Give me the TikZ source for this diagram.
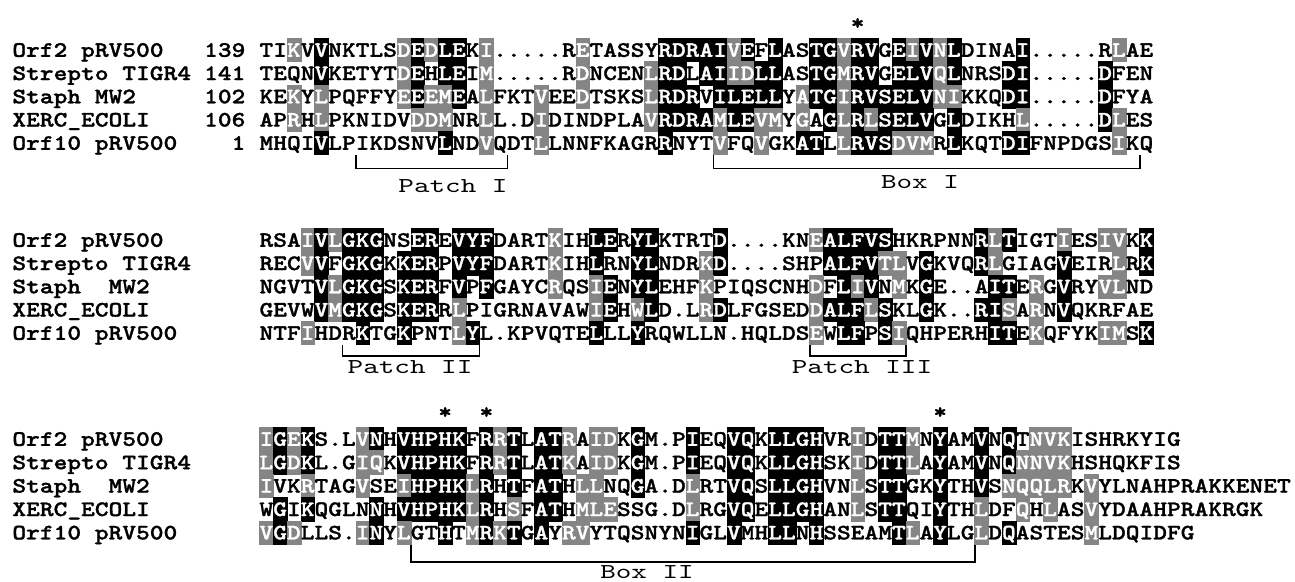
\documentclass[tikz,border=0pt]{standalone}
\usepackage{fontspec}
\usetikzlibrary{positioning}
\newfontfamily\seqfont{lmmonolt10-bold.otf}[FakeStretch=1.19, FakeBold=1.3]
\newfontfamily\lblfont{lmmono10-regular.otf}[FakeStretch=1.4]
\newcommand\seqsize{\fontsize{11pt}{13pt}\selectfont}
\newcommand\lblsize{\fontsize{10.6pt}{13pt}\selectfont}

\tikzset{
  res/.style={font=\seqfont\seqsize, inner sep=0pt, minimum width=6.875pt,
    minimum height=11.7pt, text height=6.8pt, text depth=0pt},
  res-/.style={res},
  resb/.style={res, fill=black, draw=black, line width=0.25pt, text=white},
  resg/.style={res, fill=black!48, draw=black!48, line width=0.25pt, text=white},
  namelbl/.style={font=\seqfont\seqsize, inner sep=0pt, text height=6.8pt,
    text depth=0pt, anchor=west},
  numlbl/.style={namelbl, anchor=east},
  starmark/.style={res},
  bracket/.style={line width=0.7pt},
  boxlbl/.style={font=\lblfont\lblsize, inner sep=0pt},
}

% one row of residues: y, row name, residues, shading (- plain, b black, g grey)
\ExplSyntaxOn
\str_new:N \l_aln_shade_str
\NewDocumentCommand \alnrow { m m m m }
  {
    \str_set:Nn \l_aln_shade_str {#4}
    \str_remove_all:Nn \l_aln_shade_str { | }
    \int_step_inline:nn { \str_count:n {#3} }
      {
        \use:e
          {
            \exp_not:N \node [ res \str_item:Nn \l_aln_shade_str {##1} ]
              (#2-##1) at ( { 12 + (17.5 + ##1) * 13.75 } , #1 )
              { \str_item:nn {#3} {##1} } ;
          }
      }
  }
\ExplSyntaxOff

\begin{document}
\begin{tikzpicture}[x=0.5pt, y=-0.5pt]
  \path[fill=white] (0,0) rectangle (1295,582);
  \useasboundingbox (0,0) rectangle (1295,582);

  % block 1
  \node[namelbl] (nA1) at (12,50) {Orf2 pRV500};
  \node[namelbl] (nA2) at (12,73.25) {Strepto TIGR4};
  \node[namelbl] (nA3) at (12,96.5) {Staph MW2};
  \node[namelbl] (nA4) at (12,119.75) {XERC\_ECOLI};
  \node[namelbl] (nA5) at (12,143) {Orf10 pRV500};
  \node[numlbl] (kA1) at (245.75,50) {139};
  \node[numlbl] (kA2) at (245.75,73.25) {141};
  \node[numlbl] (kA3) at (245.75,96.5) {102};
  \node[numlbl] (kA4) at (245.75,119.75) {106};
  \node[numlbl] (kA5) at (245.75,143) {1};
  \alnrow{50}{A1}{TIKVVNKTLSDEDLEKI.....RETASSYRDRAIVEFLASTGVRVGEIVNLDINAI.....RLAE}
    {--g-b-----|gbgbb-g---|---g-----b|bbbbgb-b--|bbgbb-bgbg|b----b----|--g--}
  \alnrow{73.25}{A2}{TEQNVKETYTDEHLEIM.....RDNCENLRDLAIIDLLASTGMRVGELVQLNRSDI.....DFEN}
    {----b-----|gb-bb-g---|---g----gb|b-bbggbb--|bbgbb-bbbg|b---bb----|-b---}
  \alnrow{96.5}{A3}{KEKYLPQFFYEEEMEALFKTVEEDTSKSLRDRVILELLYATGIRVSELVNIKKQDI.....DFYA}
    {--g-g-----|gbggb-g---|g--g----gb|bb-bbbbb-g|bbgbbbbbbg|g---bb----|-b---}
  \alnrow{119.75}{A4}{APRHLPKNIDVDDMNRLL.DIDINDPLAVRDRAMLEVMYGAGLRLSELVGLDIKHL.....DLES}
    {--g-g-----|-ggg--g---|g-------gb|bbbgbbgg-g|-bgbgbbbb-|b----g----|-bg--}
  \alnrow{143}{A5}{MHQIVLPIKDSNVLNDVQDTLLNNFKAGRRNYTVFQVGKATLLRVSDVMRLKQTDIFNPDGSIKQ}
    {----b-----|---b--g---|g--------b|---g--g--b|b-gbbbggg-|b---bb----|--g--}
  \node[starmark, above=1.5pt of A1-44] (stA44) {*};
  \draw[bracket] (A5-7.south east) |- ([yshift=-6.6pt]A5-18.south east) -- (A5-18.south east);
  \draw[bracket] (A5-33.south east) |- ([yshift=-6.6pt]A5-64.south east) -- (A5-64.south east);
  \node[boxlbl] (lpA) at (453,186) {Patch I};
  \node[boxlbl] (lbA) at (920,182) {Box I};

  % block 2
  \node[namelbl] (nB1) at (12,240) {Orf2 pRV500};
  \node[namelbl] (nB2) at (12,263.25) {Strepto TIGR4};
  \node[namelbl] (nB3) at (12,286.5) {Staph\ \ MW2};
  \node[namelbl] (nB4) at (12,309.75) {XERC\_ECOLI};
  \node[namelbl] (nB5) at (12,333) {Orf10 pRV500};
  \alnrow{240}{B1}{RSAIVLGKGNSEREVYFDARTKIHLERYLKTRTD....KNEALFVSHKRPNNRLTIGTIESIVKK}
    {---gbgbbb-|-bb-bbb---|-g--bb-bb-|---b------|gbbbbb----|--bgb---g-|-gg-b}
  \alnrow{263.25}{B2}{RECVVFGKGKKERPVYFDARTKIHLRNYLNDRKD....SHPALFVTLVGKVQRLGIAGVEIRLRK}
    {---gb-bbb-|bbb-bbb---|-g--b--bb-|--gb------|-bbbbgg-b-|--bg----b-|--g-b}
  \alnrow{286.5}{B3}{NGVTVLGKGSKERFVPFGAYCRQSIENYLEHFKPIQSCNHDFLIVNMKGE..AITERGVRYVLND}
    {----bgbbb-|bbb-b-b---|-g--gb-bb-|--g-------|g-bgb-g-b-|---bb-g-b-|-gg--}
  \alnrow{309.75}{B4}{GEVWVMGKGSKERRLPIGRNAVAWIEHWLD.LRDLFGSEDDALFLSKLGK..RISARNVQKRFAE}
    {----bgbbb-|bbb-g-----|----gb-gb-|--gb------|gbbbgb--b-|--bbg-g-b-|-----}
  \alnrow{333}{B5}{NTFIHDRKTGKPNTLYL.KPVQTELLLYRQWLLN.HQLDSEWLFPSIQHPERHITEKQFYKIMSK}
    {---g---b--|b---gb----|----b--b--|----------|g-bb-bg---|---bb-g---|-gg-b}
  \draw[bracket] (B5-6.south east) |- ([yshift=-5.6pt]B5-16.south east) -- (B5-16.south east);
  \draw[bracket] (B5-40.south east) |- ([yshift=-5.6pt]B5-47.south east) -- (B5-47.south east);
  \node[boxlbl] (lpB) at (410,367) {Patch II};
  \node[boxlbl] (lpC) at (862,367) {Patch III};

  % block 3
  \node[namelbl] (nC1) at (12,439) {Orf2 pRV500};
  \node[namelbl] (nC2) at (12,462.4) {Strepto TIGR4};
  \node[namelbl] (nC3) at (12,485.8) {Staph\ \ MW2};
  \node[namelbl] (nC4) at (12,509.2) {XERC\_ECOLI};
  \node[namelbl] (nC5) at (12,532.6) {Orf10 pRV500};
  \alnrow{439}{C1}{IGEKS.LVNHVHPHKFRRTLATRAIDKGM.PIEQVQKLLGHVRIDTTMNYAMVNQTNVKISHRKYIG}
    {gbgb---gb-|bbbbb-bgb-|bbg-gg-b--|-b--bb-bbb|b--g-bbg-b|--b-b-ggg-|-------}
  \alnrow{462.4}{C2}{LGDKL.GIQKVHPHKFRRTLATKAIDKGM.PIEQVQKLLGHSKIDTTLAYAMVNQNNVKHSHQKFIS}
    {gbgb---gg-|bbbbb-bgb-|bbg-gg-b--|-b--bb-bbb|b--g-bbg-b|--b-bgggg-|-------}
  \alnrow{485.8}{C3}{IVKRTAGVSEIHPHKLRHTFATHLLNQGA.DLRTVQSLLGHVNLSTTGKYTHVSNQQLRKVYLNAHPRAKKENET}
    {g--g---g--|gbbbbgb-b-|bb-gg--b--|-g--bb-bbb|b--g-bb--b|--b-ggggg-|g--------------}
  \alnrow{509.2}{C4}{WGIKQGLNNHVHPHKLRHSFATHMLESSG.DLRGVQELLGHANLSTTQIYTHLDFQHLASVYDAAHPRAKRGK}
    {-b-b----b-|bbbbbgb-g-|bb-ggg----|-g--bb-bbb|b--g-bb--b|--g--g-g--|g------------}
  \alnrow{532.6}{C5}{VGDLLS.INYLGTHTMRKTGAYRVYTQSNYNIGLVMHLLNHSSEAMTLAYLGLDQASTESMLDQIDFG}
    {gbg----gb-|g--b-gbgb-|b-gg------|-b--b--bb-|b-----bg-b|--g-b-----|g-------}
  \node[starmark, above=1.5pt of C1-14] (stC14) {*};
  \node[starmark, above=1.5pt of C1-17] (stC17) {*};
  \node[starmark, above=1.5pt of C1-50] (stC50) {*};
  \draw[bracket] (C5-11.south east) |- ([yshift=-8.6pt]C5-52.south east) -- (C5-52.south east);
  \node[boxlbl] (lbB) at (647,572) {Box II};
\end{tikzpicture}
\end{document}
